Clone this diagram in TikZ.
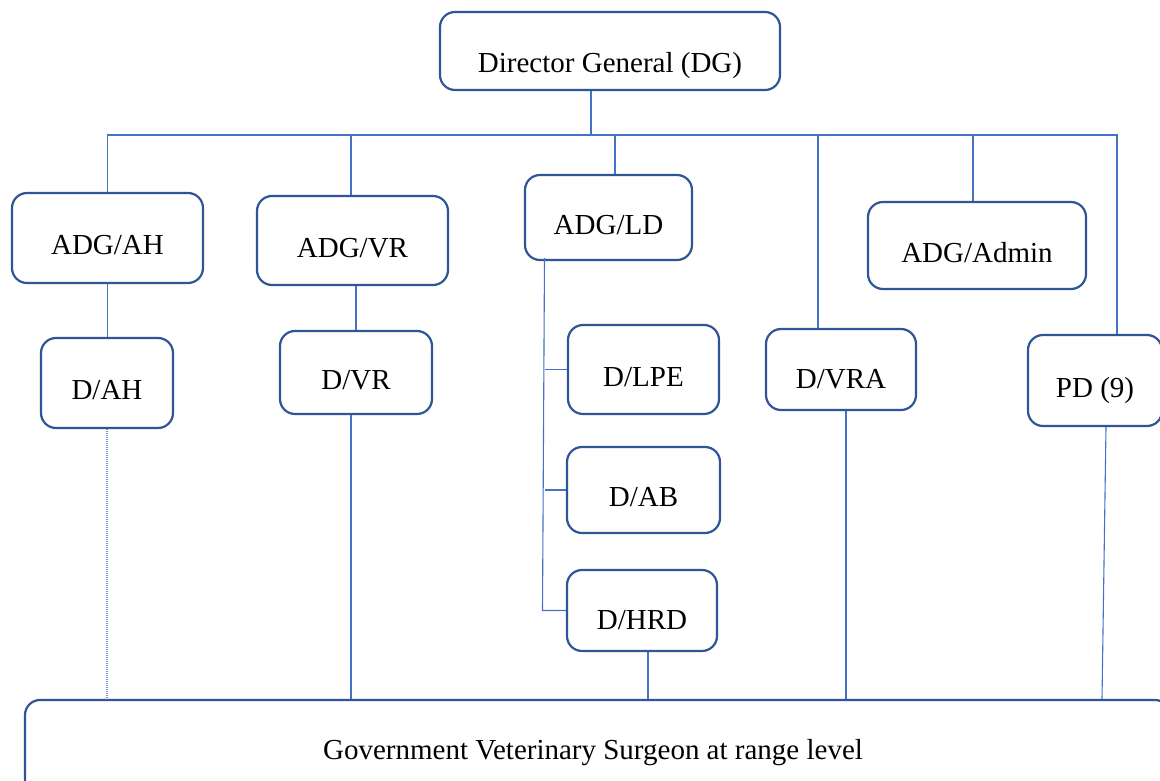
\documentclass[tikz,border=0pt]{standalone}
\usepackage{fontspec}
\setmainfont{Liberation Serif}
\usetikzlibrary{calc}
\definecolor{boxblue}{HTML}{2F5597}
\definecolor{linkblue}{HTML}{4472C4}
\tikzset{
  box/.style={draw=boxblue, line width=2.2pt, rounded corners=15pt, fill=white,
    inner sep=0pt, text height=40pt, text depth=7pt, font=\fontsize{29}{34}\selectfont},
  conn/.style={draw=linkblue, line width=1.1pt},
  dotconn/.style={draw=linkblue!75, line width=1.2pt, dash pattern=on 1pt off 1pt},
}
\begin{document}
\begin{tikzpicture}[x=1pt,y=-1pt]
\useasboundingbox (0,0) rectangle (1160,781);
% boxes
\node[box, minimum width=340pt, minimum height=78pt, text height=50pt] (dg) at (610,51) {Director General (DG)};
\node[box, minimum width=191pt, minimum height=90pt] (adgah) at (107.5,238) {ADG/AH};
\node[box, minimum width=191pt, minimum height=89pt] (adgvr) at (352.5,240.5) {ADG/VR};
\node[box, minimum width=167pt, minimum height=85pt] (adgld) at (608.5,217.5) {ADG/LD};
\node[box, minimum width=218pt, minimum height=87pt] (adgadmin) at (977,245.5) {ADG/Admin};
\node[box, minimum width=132pt, minimum height=90pt] (dah) at (107,383) {D/AH};
\node[box, minimum width=152pt, minimum height=83pt] (dvr) at (356,372.5) {D/VR};
\node[box, minimum width=151pt, minimum height=89pt] (dlpe) at (643.5,369.5) {D/LPE};
\node[box, minimum width=153pt, minimum height=86pt] (dab) at (643.5,490) {D/AB};
\node[box, minimum width=150pt, minimum height=81pt, text height=44pt] (dhrd) at (642,610.5) {D/HRD};
\node[box, minimum width=150pt, minimum height=81pt, text height=44pt] (dvra) at (841,369.5) {D/VRA};
\node[box, minimum width=134pt, minimum height=91pt] (pd) at (1095,380.5) {PD (9)};
\node[box, minimum width=1145pt, minimum height=100pt, text height=20pt, text depth=7pt] (gvs) at (597.5,750) {};
\node[font=\fontsize{29}{34}\selectfont, inner sep=0pt] (gvstext) at (593,753) {Government Veterinary Surgeon at range level};
% bus
\coordinate (bus) at (0,135);
\draw[conn] ([xshift=-19pt]dg.south) -- ([xshift=-19pt]dg.south |- bus);
\draw[conn] (adgah.north) -- (adgah.north |- bus) -- ([xshift=22pt]pd.north |- bus) -- ([xshift=22pt]pd.north);
\draw[conn] ([xshift=-1.5pt]adgvr.north |- bus) -- ([xshift=-1.5pt]adgvr.north);
\draw[conn] ([xshift=6.5pt]adgld.north |- bus) -- ([xshift=6.5pt]adgld.north);
\draw[conn] ([xshift=-23pt]dvra.north |- bus) -- ([xshift=-23pt]dvra.north);
\draw[conn] ([xshift=-4pt]adgadmin.north |- bus) -- ([xshift=-4pt]adgadmin.north);
% ADG to D
\draw[conn] (adgah.south) -- (adgah.south |- dah.north);
\draw[conn] (dvr.north |- adgvr.south) -- (dvr.north);
% LD spine
\coordinate (spinetop) at ([xshift=-64pt,yshift=3pt]adgld.south);
\coordinate (spinebot) at ([xshift=-2pt]spinetop |- dhrd.west);
\draw[conn] (spinetop) -- (spinebot) -- (dhrd.west);
\draw[conn] (dlpe.west -| spinetop) -- (dlpe.west);
\draw[conn] (dab.west -| spinetop) -- (dab.west);
% to bottom
\draw[dotconn] (dah.south) -- (dah.south |- gvs.north);
\draw[conn] ([xshift=-5pt]dvr.south) -- ([xshift=-5pt]dvr.south |- gvs.north);
\draw[conn] ([xshift=6pt]dhrd.south) -- ([xshift=6pt]dhrd.south |- gvs.north);
\draw[conn] ([xshift=5pt]dvra.south) -- ([xshift=5pt]dvra.south |- gvs.north);
\draw[conn] ([xshift=11pt]pd.south) -- ([xshift=7pt]pd.south |- gvs.north);
\end{tikzpicture}
\end{document}
